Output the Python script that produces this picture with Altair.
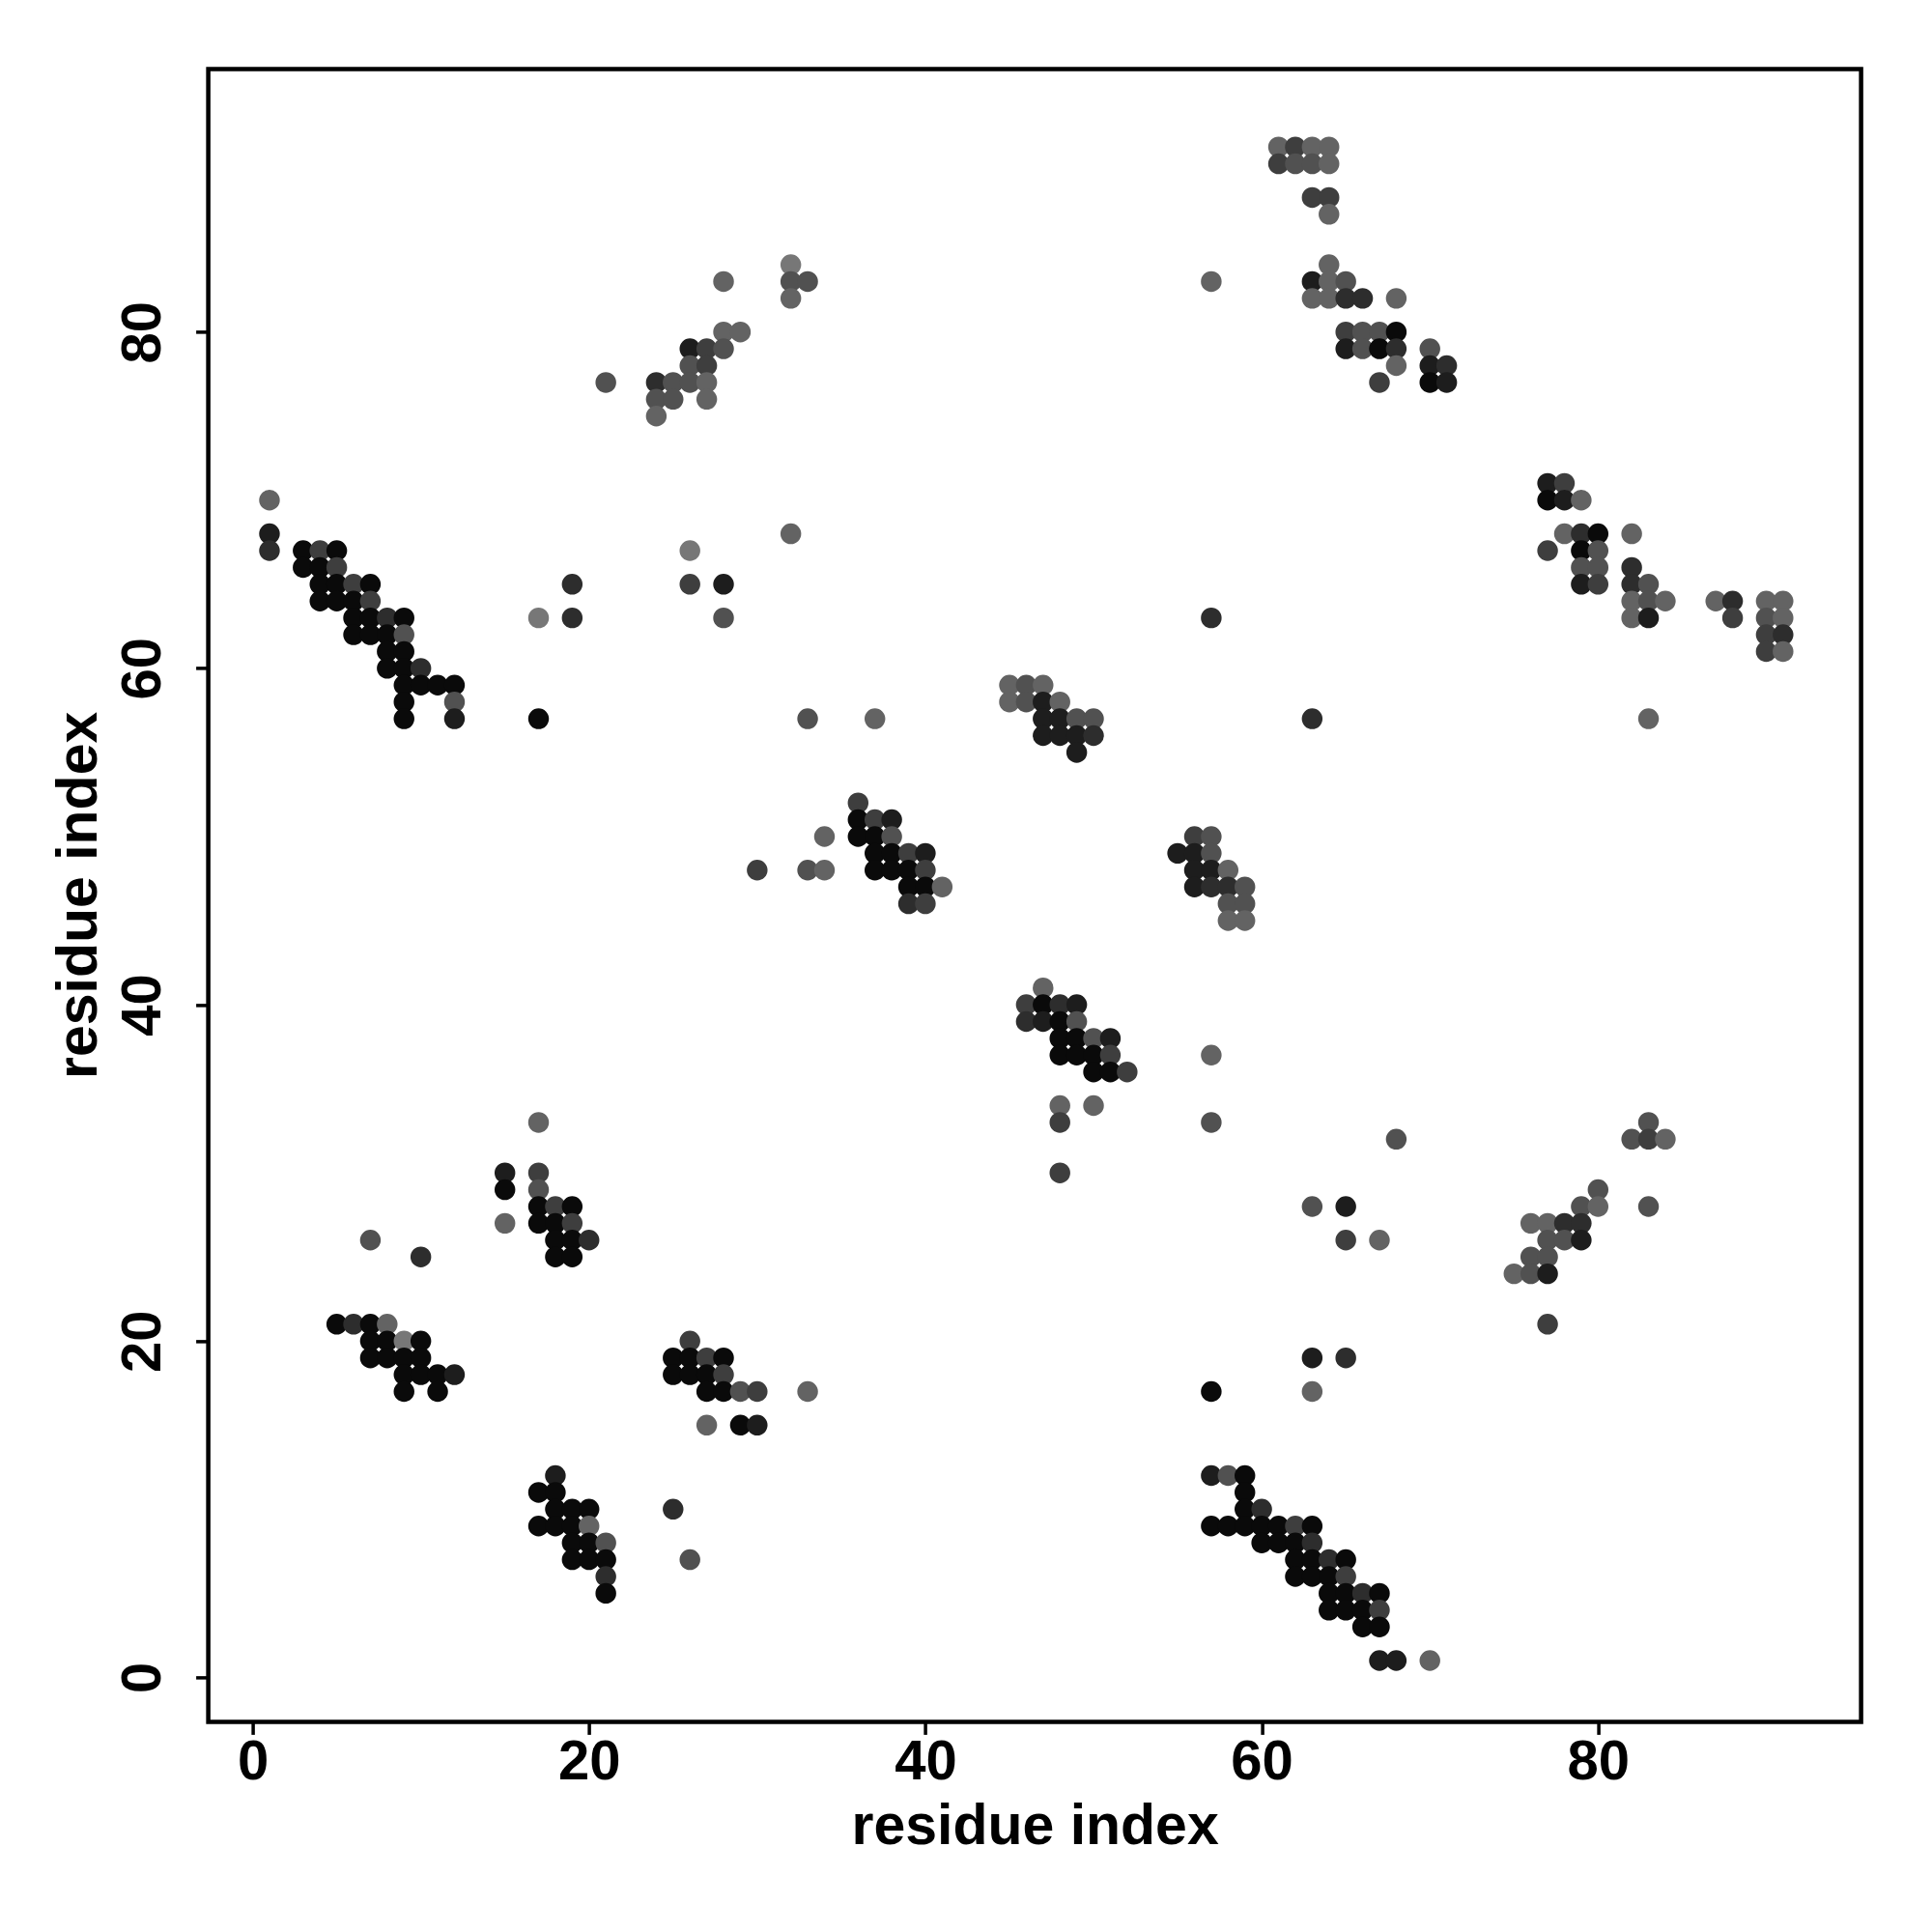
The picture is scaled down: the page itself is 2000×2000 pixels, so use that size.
import altair as alt
import pandas as pd

# contact map points: residue i (x), residue j (y), shade level 0 (light grey) .. 6 (black)
xs = [
    1, 1, 1, 3, 4, 5, 3, 4, 5, 4, 5, 6, 7, 4, 5, 6, 7, 6, 7, 8, 9, 6, 7, 8, 9, 8, 9, 8, 9, 10,
    9, 10, 11, 12, 9, 12, 9, 12, 17, 33, 19, 26, 28, 17, 19, 28, 32, 26,
    21, 28, 32, 32, 33, 32, 28, 29, 26, 27, 28, 26, 27, 24, 25, 26, 27, 24, 25, 27, 24,
    30, 33, 34, 34, 36, 36, 37, 38, 36, 37, 38, 37, 38, 39, 40, 37, 38, 39, 40, 39, 40, 41, 39, 40,
    47, 46, 47, 48, 49, 46, 47, 48, 49, 48, 49, 50, 51, 48, 49, 50, 51, 50, 51, 52, 48, 50, 48, 48,
    57, 37, 63, 45, 46, 47, 45, 46, 47, 48, 47, 48, 49, 50, 47, 48, 49, 50, 49,
    56, 57, 55, 56, 57, 56, 57, 58, 56, 57, 58, 59, 58, 59, 58, 59,
    61, 62, 63, 64, 61, 62, 63, 64, 63, 64, 64, 64, 63, 64, 65, 63, 64, 65, 66, 68,
    65, 66, 67, 68, 65, 66, 67, 68, 70, 68, 70, 71, 67, 70, 71, 57,
    77, 78, 77, 78, 79, 78, 79, 80, 82, 77, 79, 80, 79, 80, 82, 79, 80, 82, 83,
    82, 83, 84, 87, 88, 90, 91, 82, 83, 88, 90, 91, 90, 91, 90, 91, 83,
    57, 58, 59, 59, 59, 60, 57, 58, 59, 60, 61, 62, 63, 60, 61, 62, 63, 62, 63, 64, 65,
    62, 63, 64, 65, 64, 65, 66, 67, 64, 65, 66, 67, 66, 67, 67, 68, 70,
    83, 82, 83, 84, 80, 79, 80, 83, 76, 77, 78, 79, 77, 78, 79, 76, 77, 75, 76, 77, 77,
    17, 15, 17, 15, 17, 17, 18, 19, 15, 17, 18, 19, 7, 18, 19, 20, 10, 18, 19,
    5, 6, 7, 8, 7, 8, 9, 10, 7, 8, 9, 10, 9, 10, 11, 12, 9, 11,
    18, 17, 18, 18, 19, 20, 17, 18, 19, 20, 19, 20, 21, 19, 20, 21, 21, 21,
    26, 25, 26, 27, 28, 25, 26, 27, 28, 27, 28, 29, 30, 33, 27, 29, 30, 25, 26,
    57, 57, 68, 63, 65, 65, 67, 63, 65, 57, 63,
]
ys = [
    70, 68, 67, 67, 67, 67, 66, 66, 66, 65, 65, 65, 65, 64, 64, 64, 64, 63, 63, 63, 63, 62, 62, 62, 62, 61, 61, 60, 60, 60,
    59, 59, 59, 59, 58, 58, 57, 57, 57, 57, 65, 65, 65, 63, 63, 63, 68, 67,
    77, 83, 84, 83, 83, 82, 80, 80, 79, 79, 79, 78, 78, 77, 77, 77, 77, 76, 76, 76, 75,
    48, 48, 48, 50, 52, 51, 51, 51, 50, 50, 50, 49, 49, 49, 49, 48, 48, 48, 48, 47, 47, 47, 46, 46,
    41, 40, 40, 40, 40, 39, 39, 39, 39, 38, 38, 38, 38, 37, 37, 37, 37, 36, 36, 36, 34, 34, 33, 30,
    63, 57, 57, 59, 59, 59, 58, 58, 58, 58, 57, 57, 57, 57, 56, 56, 56, 56, 55,
    50, 50, 49, 49, 49, 48, 48, 48, 47, 47, 47, 47, 46, 46, 45, 45,
    91, 91, 91, 91, 90, 90, 90, 90, 88, 88, 87, 84, 83, 83, 83, 82, 82, 82, 82, 82,
    80, 80, 80, 80, 79, 79, 79, 79, 79, 78, 78, 78, 77, 77, 77, 83,
    71, 71, 70, 70, 70, 68, 68, 68, 68, 67, 67, 67, 66, 66, 66, 65, 65, 65, 65,
    64, 64, 64, 64, 64, 64, 64, 63, 63, 63, 63, 63, 62, 62, 61, 61, 57,
    12, 12, 12, 11, 10, 10, 9, 9, 9, 9, 9, 9, 9, 8, 8, 8, 8, 7, 7, 7, 7,
    6, 6, 6, 6, 5, 5, 5, 5, 4, 4, 4, 4, 3, 3, 1, 1, 1,
    33, 32, 32, 32, 29, 28, 28, 28, 27, 27, 27, 27, 26, 26, 26, 25, 25, 24, 24, 24, 21,
    33, 30, 30, 29, 29, 28, 28, 28, 27, 27, 27, 27, 26, 26, 26, 26, 25, 25, 25,
    21, 21, 21, 21, 20, 20, 20, 20, 19, 19, 19, 19, 18, 18, 18, 18, 17, 17,
    12, 11, 11, 10, 10, 10, 9, 9, 9, 9, 8, 8, 8, 7, 7, 7, 6, 5,
    20, 19, 19, 19, 19, 18, 18, 18, 18, 17, 17, 17, 17, 17, 15, 15, 15, 10, 7,
    37, 33, 32, 28, 28, 26, 26, 19, 19, 17, 17,
]
shade = [
    1, 5, 4, 6, 3, 6, 6, 6, 3, 6, 6, 3, 6, 6, 6, 6, 3, 6, 6, 4, 6, 6, 6, 6, 2, 6, 6, 6, 6, 4,
    6, 6, 6, 6, 6, 2, 6, 5, 6, 2, 4, 3, 5, 0, 4, 2, 1, 0,
    2, 1, 0, 2, 2, 1, 1, 1, 5, 3, 2, 2, 3, 4, 2, 2, 1, 2, 2, 1, 1,
    3, 2, 1, 1, 3, 6, 3, 5, 6, 6, 2, 6, 6, 3, 5, 6, 6, 6, 3, 6, 6, 1, 4, 3,
    1, 3, 6, 4, 5, 4, 5, 6, 2, 6, 6, 2, 5, 6, 6, 6, 3, 6, 6, 3, 1, 1, 3, 3,
    4, 1, 4, 1, 2, 1, 1, 2, 5, 1, 5, 5, 2, 2, 5, 5, 5, 4, 5,
    3, 2, 5, 5, 2, 5, 5, 1, 5, 4, 4, 2, 2, 2, 1, 1,
    1, 3, 1, 1, 3, 2, 2, 1, 3, 3, 1, 1, 5, 1, 2, 1, 1, 4, 4, 1,
    3, 2, 2, 6, 5, 2, 6, 4, 2, 1, 5, 4, 3, 6, 5, 1,
    5, 3, 6, 5, 1, 1, 4, 6, 1, 3, 6, 2, 2, 2, 4, 5, 3, 4, 2,
    1, 2, 1, 1, 4, 1, 1, 1, 5, 3, 2, 1, 3, 4, 3, 1, 1,
    5, 2, 6, 6, 6, 4, 6, 6, 6, 6, 6, 3, 6, 6, 6, 6, 4, 6, 6, 4, 6,
    6, 6, 6, 3, 6, 6, 4, 6, 6, 6, 6, 3, 6, 6, 5, 5, 1,
    2, 2, 3, 1, 2, 2, 1, 2, 1, 1, 4, 4, 2, 2, 5, 2, 2, 1, 2, 5, 3,
    1, 5, 3, 6, 2, 6, 3, 6, 1, 6, 6, 3, 2, 6, 6, 4, 4, 6, 6,
    6, 4, 6, 1, 6, 6, 0, 6, 6, 6, 6, 6, 6, 6, 6, 5, 6, 6,
    5, 6, 6, 6, 6, 6, 6, 6, 6, 1, 6, 6, 2, 6, 6, 6, 4, 6,
    3, 6, 6, 3, 6, 6, 6, 6, 3, 6, 6, 2, 3, 1, 1, 6, 5, 4, 2,
    1, 2, 2, 2, 5, 3, 1, 5, 4, 6, 1,
]

ticks = [0, 20, 40, 60, 80]
axis_title = "residue index"

df = pd.DataFrame({"i": xs, "j": ys, "shade": shade})

FONT = "Liberation Sans"
dom = [-2.64, 95.64]

x_axis = alt.Axis(
    values=ticks, grid=False, domain=False, title=axis_title,
    labelFont=FONT, labelFontWeight="bold", labelFontSize=58, labelColor="black",
    labelPadding=0, labelBaseline="top",
    tickColor="black", tickWidth=3.5, tickSize=13,
    titleFont=FONT, titleFontWeight="bold", titleFontSize=59, titleColor="black",
    titleBaseline="middle", titleY=108,
)
y_axis = alt.Axis(
    values=ticks, grid=False, domain=False, title=axis_title,
    labelFont=FONT, labelFontWeight="bold", labelFontSize=58, labelColor="black",
    labelAngle=270, labelAlign="center", labelBaseline="middle", labelPadding=54,
    tickColor="black", tickWidth=3.5, tickSize=13,
    titleFont=FONT, titleFontWeight="bold", titleFontSize=59, titleColor="black",
    titleAngle=270, titleBaseline="middle", titleX=-134, titleY=855,
)

chart = (
    alt.Chart(df)
    .mark_circle(size=460, opacity=1)
    .encode(
        x=alt.X("i:Q", scale=alt.Scale(domain=dom, nice=False, zero=False), axis=x_axis),
        y=alt.Y("j:Q", scale=alt.Scale(domain=dom, nice=False, zero=False), axis=y_axis),
        color=alt.Color("shade:Q", scale=alt.Scale(domain=[0, 6], range=["#777777", "#0a0a0a"]), legend=None),
    )
    .properties(
        width=1711, height=1711,
        autosize=alt.AutoSizeParams(type="none"),
        padding={"left": 207.6, "top": 63.4, "right": 60, "bottom": 200},
        background="white",
    )
    .configure_view(stroke="black", strokeWidth=4.5)
)

chart.save("out.html", embed_options={"renderer": "svg", "actions": False})
